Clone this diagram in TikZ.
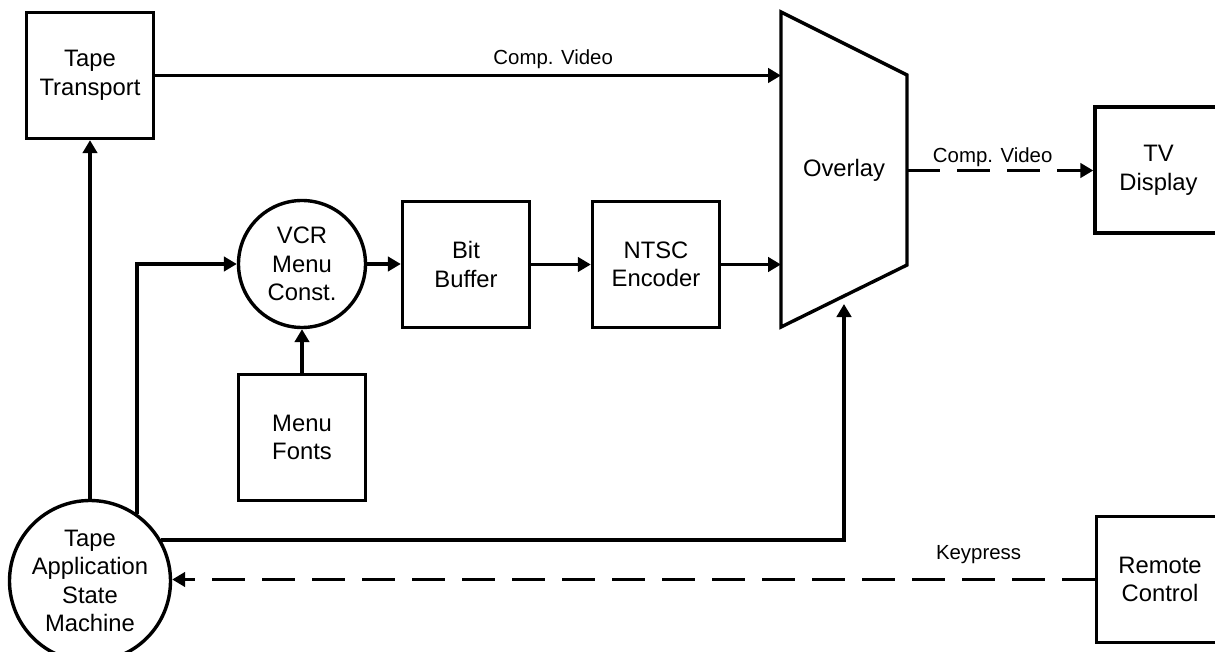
\documentclass[tikz,border=0pt]{standalone}
\usepackage{fontspec}
\setmainfont{Liberation Sans}
\usetikzlibrary{arrows.meta,calc}
\newcommand\dgnodefont{\fontsize{11.9}{14.3}\selectfont}
\newcommand\dglblfont{\fontsize{10.2}{12}\selectfont}
\begin{document}
\begin{tikzpicture}[x=0.5pt,y=-0.5pt,
  lw/.style={line width=1.7pt},
  blk/.style={draw, lw, minimum width=63.5pt, minimum height=63pt, inner sep=0pt, align=center, font=\dgnodefont},
  circ/.style={draw, lw, circle, minimum size=63.5pt, inner sep=0pt, align=center, font=\dgnodefont},
  conn/.style={lw, -{Triangle[length=6.5pt,width=7.2pt]}},
  dashconn/.style={conn, dash pattern=on 16.5pt off 8.5pt},
  lbl/.style={font=\dglblfont, inner sep=0pt, anchor=south}]
\useasboundingbox (0,0) rectangle (1215,652);
% nodes
\node[blk] (tt) at (90,75.5) {Tape\\Transport};
\node[circ] (vcr) at (302,264) {VCR\\Menu\\Const.};
\node[blk] (bb) at (466,264.5) {Bit\\Buffer};
\node[blk] (ntsc) at (656,264.5) {NTSC\\Encoder};
\node[blk] (mf) at (302,437.5) {Menu\\Fonts};
\node[blk] (tv) at (1158.5,170) {TV\\Display};
\node[blk] (rc) at (1160,579.5) {Remote\\Control};
\node[circ, minimum size=80.5pt] (tapp) at (90,581) {Tape\\Application\\State\\Machine};
% overlay trapezoid
\coordinate (o1) at (781,12);
\coordinate (o2) at (907,75);
\coordinate (o3) at (907,265);
\coordinate (o4) at (781,327);
\draw[lw, line join=miter] (o1) -- (o2) -- (o3) -- (o4) -- cycle;
\node[font=\dgnodefont] (ov) at (844,170) {Overlay};
\coordinate (ovtop) at (781,76);
\coordinate (ovmid) at (781,265);
\coordinate (ovout) at (907,170.5);
\coordinate (ovin) at (844,304);
% connectors
\draw[conn] (tt.east) -- (tt.east -| ovtop) node[lbl, pos=0.636, yshift=2.5pt] {Comp. Video};
\draw[conn] (vcr.east) -- (vcr.east -| bb.west);
\draw[conn] (bb) -- (ntsc);
\draw[conn] (ntsc.east) -- (ntsc.east -| ovmid);
\draw[conn] (mf) -- (vcr);
\draw[conn] (tapp) -- (tt);
\draw[conn] (tapp.55) |- (vcr.west);
\draw[conn] (tapp.30) -| (ovin);
\draw[dashconn] (ovout) -- (tv.west |- ovout) node[lbl, pos=0.46, yshift=1.2pt] {Comp. Video};
\draw[dashconn] (rc.west) -- (rc.west -| tapp.east) node[lbl, pos=0.126, yshift=7pt] {Keypress};
\end{tikzpicture}
\end{document}
